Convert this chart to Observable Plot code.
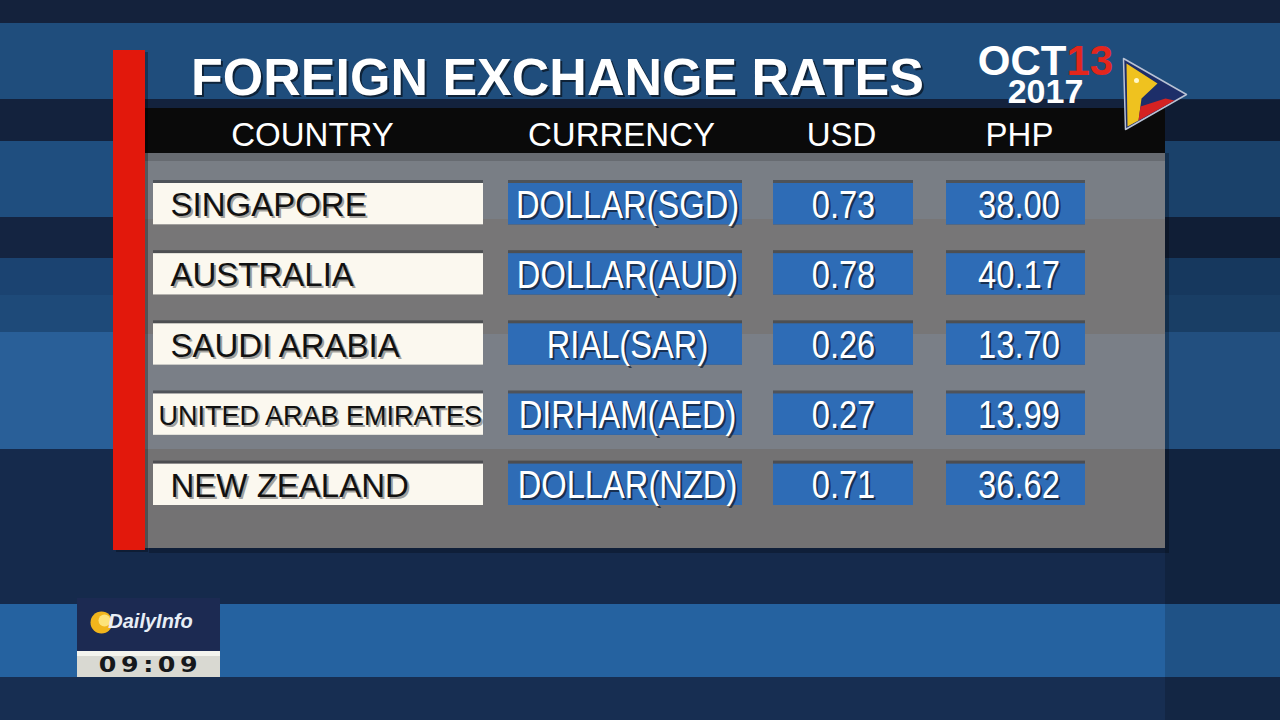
<!DOCTYPE html>
<html>
<head>
<meta charset="utf-8">
<script src="https://cdn.jsdelivr.net/npm/d3@7"></script>
<script src="https://cdn.jsdelivr.net/npm/@observablehq/plot@0.6"></script>
<style>
  html, body { margin: 0; padding: 0; background: #14223c; overflow: hidden; }
  #chart svg { display: block; }
</style>
</head>
<body>
<div id="chart"></div>
<script>
// ---------------- DATA ----------------
const countries  = ["SINGAPORE", "AUSTRALIA", "SAUDI ARABIA", "UNITED ARAB EMIRATES", "NEW ZEALAND"];
const currencies = ["DOLLAR(SGD)", "DOLLAR(AUD)", "RIAL(SAR)", "DIRHAM(AED)", "DOLLAR(NZD)"];
const usdRates   = [0.73, 0.78, 0.26, 0.27, 0.71];
const phpRates   = [38.00, 40.17, 13.70, 13.99, 36.62];
const columnHeaders = ["COUNTRY", "CURRENCY", "USD", "PHP"];
const titleText  = ["FOREIGN EXCHANGE RATES"];
const dateMonth  = ["OCT"];
const dateDay    = ["13"];
const dateYear   = ["2017"];
const brandName  = ["DailyInfo"];
const clockTime  = ["09:09"];

// ---------------- LAYOUT (positions / styles) ----------------
const W = 1280, H = 720;
const stripes = [
  {y1: 0,   y2: 23,  c: "#14223c"},
  {y1: 23,  y2: 99,  c: "#1f4d7c"},
  {y1: 99,  y2: 141, c: "#13223d"},
  {y1: 141, y2: 217, c: "#1f4e7f"},
  {y1: 217, y2: 258, c: "#142441"},
  {y1: 258, y2: 295, c: "#1b4371"},
  {y1: 295, y2: 332, c: "#1e4a79"},
  {y1: 332, y2: 449, c: "#295f98"},
  {y1: 449, y2: 604, c: "#152a4c"},
  {y1: 604, y2: 677, c: "#2562a0"},
  {y1: 677, y2: 720, c: "#172e52"}
];
const panel = {x1: 145, x2: 1165, y1: 153, y2: 548};
const panelBands = [
  {y1: 153, y2: 219, c: "#797e85"},
  {y1: 219, y2: 334, c: "#777677"},
  {y1: 334, y2: 449, c: "#7a7f87"},
  {y1: 449, y2: 548, c: "#737273"}
];
const header = {x1: 145, x2: 1165, y1: 108, y2: 153};
const redBar = {x1: 113, x2: 145, y1: 50, y2: 550};
const cols = [
  {x1: 153, x2: 483, fill: "#fbf8ef"},
  {x1: 508, x2: 742, fill: "#2e6cb6"},
  {x1: 773, x2: 913, fill: "#2e6cb6"},
  {x1: 946, x2: 1085, fill: "#2e6cb6"}
];
const headerCenters = [312, 621, 841, 1019];

// Row positions through Plot's band scale
const rowScale = Plot.scale({y: {type: "band", domain: countries, range: [183, 505], paddingInner: 0.41, paddingOuter: 0, align: 0.5}});
const bw = rowScale.bandwidth;

const rows = countries.map((c, i) => {
  const y1 = rowScale.apply(c);
  return {country: c, currency: currencies[i], usd: usdRates[i].toFixed(2), php: phpRates[i].toFixed(2), y1, y2: y1 + bw, yc: y1 + bw / 2 + 1.5};
});
const cells = rows.flatMap(r => cols.map((col, j) => ({x1: col.x1, x2: col.x2, y1: r.y1, y2: r.y2, fill: col.fill})));
const colCenter = j => (cols[j].x1 + cols[j].x2) / 2;

// logo polygons (top-right)
const logoOuter = [[1123, 58], [1186, 94], [1125, 129], [1123, 58]];
const logoYellow = [[1126, 63], [1157, 83], [1141, 98], [1138, 120], [1127, 126], [1126, 63]];
const logoRed = [[1140, 106], [1165, 98], [1174, 100], [1138, 120], [1140, 106]];

const FONT = "Liberation Sans, Arial, Helvetica, sans-serif";

const chart = Plot.plot({
  width: W, height: H, margin: 0,
  x: {domain: [0, W], range: [0, W], axis: null},
  y: {domain: [0, H], range: [0, H], axis: null},
  color: {type: "identity"},
  style: {background: "transparent", fontFamily: FONT},
  marks: [
    // background stripes
    Plot.rect(stripes, {x1: 0, x2: W, y1: "y1", y2: "y2", fill: "c"}),
    Plot.rect([0], {x1: panel.x2, x2: W, y1: 100, y2: H, fill: "#000", fillOpacity: 0.16}),
    // panel
    Plot.rect([0], {x1: panel.x1 + 4, x2: panel.x2 + 4, y1: panel.y1, y2: panel.y2 + 5, fill: "#000", fillOpacity: 0.25}),
    Plot.rect(panelBands, {x1: panel.x1, x2: panel.x2, y1: "y1", y2: "y2", fill: "c"}),
    Plot.rect([0], {x1: panel.x1, x2: panel.x2, y1: panel.y1, y2: panel.y1 + 8, fill: "#000", fillOpacity: 0.15}),
    // header band
    Plot.rect([0], {x1: header.x1, x2: header.x2, y1: header.y1, y2: header.y2, fill: "#0a0a0a"}),
    // red bar
    Plot.rect([0], {x1: redBar.x1 + 3, x2: redBar.x2 + 3, y1: redBar.y1 + 2, y2: redBar.y2 + 2, fill: "#000", fillOpacity: 0.3}),
    Plot.rect([0], {x1: redBar.x1, x2: redBar.x2, y1: redBar.y1, y2: redBar.y2, fill: "#e2180c"}),
    // cell shadows and cells
    Plot.rect(cells, {x1: "x1", x2: "x2", y1: d => d.y1 - 3, y2: "y2", fill: "#2b2f35", fillOpacity: 0.55}),
    Plot.rect(cells, {x1: "x1", x2: "x2", y1: "y1", y2: "y2", fill: "fill"}),
    // title
    Plot.text(titleText, {x: 559, y: 80, text: d => d, fontSize: 52, fontWeight: "bold", fill: "#000", fillOpacity: 0.55}),
    Plot.text(titleText, {x: 557, y: 78, text: d => d, fontSize: 52, fontWeight: "bold", fill: "#ffffff"}),
    // header labels
    Plot.text(columnHeaders, {x: (d, i) => headerCenters[i], y: 135, text: d => d, fontSize: 33, fill: "#ffffff"}),
    // date
    Plot.text(dateMonth, {x: 1066, y: 61, text: d => d, textAnchor: "end", fontSize: 42, fontWeight: "bold", fill: "#ffffff"}),
    Plot.text(dateDay, {x: 1066, y: 61, text: d => d, textAnchor: "start", fontSize: 42, fontWeight: "bold", fill: "#e3261d"}),
    Plot.text(dateYear, {x: 1045, y: 92, text: d => d, fontSize: 34, fontWeight: "bold", fill: "#ffffff"}),
    // logo
    Plot.line(logoOuter, {x: d => d[0], y: d => d[1], fill: "#1d2e69", stroke: "#b9c2d4", strokeWidth: 1.5, curve: "linear"}),
    Plot.line(logoYellow, {x: d => d[0], y: d => d[1], fill: "#efc21f", stroke: "none"}),
    Plot.line(logoRed, {x: d => d[0], y: d => d[1], fill: "#d42222", stroke: "none"}),
    Plot.dot([[1136, 80]], {x: d => d[0], y: d => d[1], r: 2.5, fill: "#fff8c8"}),
    // country names
    Plot.text(rows, {x: d => cols[0].x1 + (d.country.length > 15 ? 5 : 17) + 2, y: d => d.yc + 2, text: "country", textAnchor: "start",
      fontSize: d => d.country.length > 15 ? 27 : 33, fill: "#555", fillOpacity: 0.55}),
    Plot.text(rows, {x: d => cols[0].x1 + (d.country.length > 15 ? 5 : 17), y: "yc", text: "country", textAnchor: "start",
      fontSize: d => d.country.length > 15 ? 27 : 33, fill: "#111"}),
    // currency / usd / php
    Plot.text(rows, {ariaDescription: "condensed", x: colCenter(1) + 4, y: d => d.yc + 2, text: "currency", fontSize: 38, fill: "#0e1624", fillOpacity: 0.7}),
    Plot.text(rows, {ariaDescription: "condensed", x: colCenter(1) + 2, y: "yc", text: "currency", fontSize: 38, fill: "#ffffff"}),
    Plot.text(rows, {ariaDescription: "condensed", x: colCenter(2) + 2, y: d => d.yc + 2, text: "usd", fontSize: 38, fill: "#0e1624", fillOpacity: 0.7}),
    Plot.text(rows, {ariaDescription: "condensed", x: colCenter(2), y: "yc", text: "usd", fontSize: 38, fill: "#ffffff"}),
    Plot.text(rows, {ariaDescription: "condensed", x: colCenter(3) + 5, y: d => d.yc + 2, text: "php", fontSize: 38, fill: "#0e1624", fillOpacity: 0.7}),
    Plot.text(rows, {ariaDescription: "condensed", x: colCenter(3) + 3, y: "yc", text: "php", fontSize: 38, fill: "#ffffff"}),
    // bottom-left brand box
    Plot.rect([0], {x1: 77, x2: 220, y1: 598, y2: 651, fill: "#1c2a52"}),
    Plot.rect([0], {x1: 77, x2: 220, y1: 651, y2: 677, fill: "#d9d9d2"}),
    Plot.rect([0], {x1: 77, x2: 220, y1: 651, y2: 656, fill: "#f4f4ee"}),
    Plot.dot([[101, 622]], {x: d => d[0], y: d => d[1], r: 11, fill: "#f1b51c"}),
    Plot.dot([[104, 620]], {x: d => d[0], y: d => d[1], r: 6, fill: "#fde37a"}),
    Plot.text(brandName, {x: 150, y: 621, text: d => d, fontSize: 20, fontWeight: "bold", fontStyle: "italic", fill: "#e8eef6"}),
    Plot.text(clockTime, {ariaDescription: "clock", x: 150, y: 664, text: d => d, fontSize: 22, fontWeight: "bold", fontFamily: "DejaVu Sans, sans-serif", fill: "#15181c"})
  ]
});

// horizontally scale some texts (the broadcast font is narrow / wide)
function scaleTexts(svg, label, sx, sy) {
  svg.querySelectorAll(`g[aria-description="${label}"] text`).forEach(t => {
    let tr = t.getAttribute("transform") || "";
    const num = v => v != null && /^-?[\d.]+$/.test(v.trim());
    const xa = t.getAttribute("x"), ya = t.getAttribute("y");
    let tx = 0, ty = 0;
    if (num(xa)) { tx = +xa; t.removeAttribute("x"); }
    if (num(ya)) { ty = +ya; t.removeAttribute("y"); }
    if (tx || ty) tr = `translate(${tx},${ty}) ` + tr;
    t.setAttribute("transform", `${tr} scale(${sx},${sy})`.trim());
  });
}
scaleTexts(chart, "condensed", 0.86, 1);
chart.querySelectorAll('g[aria-description="clock"] text').forEach(t => t.setAttribute("letter-spacing", "4"));
scaleTexts(chart, "clock", 1.15, 1);

document.getElementById("chart").appendChild(chart);
</script>
</body>
</html>
